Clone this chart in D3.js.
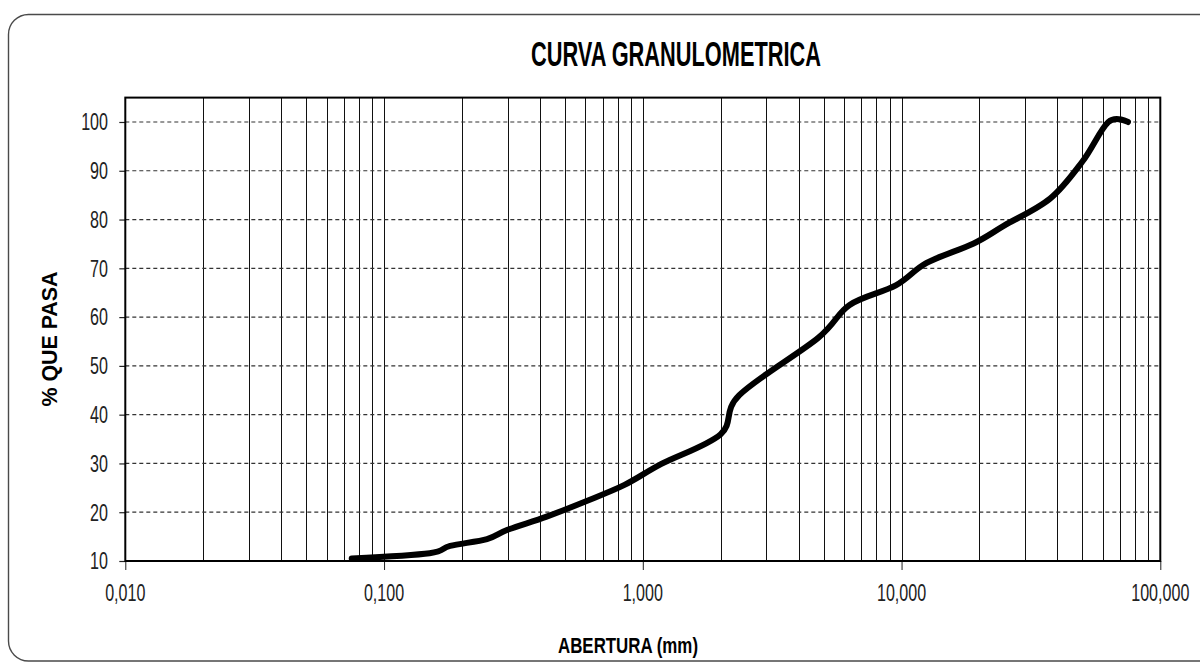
<!DOCTYPE html>
<html>
<head>
<meta charset="utf-8">
<script src="https://cdn.jsdelivr.net/npm/d3@7"></script>
<style>
  html, body { margin: 0; padding: 0; background: #fff; }
  svg { display: block; }
</style>
</head>
<body>
<svg id="chart" width="1200" height="662"></svg>
<script>
// Sieve openings (mm) and cumulative percent passing
const sieveSizes = [0.075, 0.15, 0.18, 0.25, 0.3, 0.425, 0.6, 0.85, 1.18, 2.0, 2.36, 4.75, 6.3, 9.5, 12.5, 19, 25, 37.5, 50, 63, 75];
const percentPassing = [10.5, 11.6, 13.1, 14.5, 16.4, 19.1, 22.2, 25.6, 29.9, 36.0, 44.0, 55.7, 62.5, 66.5, 71.1, 75.1, 78.8, 84.3, 91.9, 100, 100];

// Axis ticks
const xTickValues = [0.01, 0.1, 1, 10, 100];
const xTickLabels = ["0,010", "0,100", "1,000", "10,000", "100,000"];
const yTickValues = [10, 20, 30, 40, 50, 60, 70, 80, 90, 100];

const svg = d3.select("#chart");

const plotLeft = 125.3, plotRight = 1160.3, plotTop = 97.6, plotBottom = 561;

const x = d3.scaleLog().domain([0.01, 100]).range([plotLeft, plotRight]);
const y = d3.scaleLinear().domain([10, 105]).range([plotBottom, plotTop]);

// Outer rounded frame of the chart area
svg.append("rect")
  .attr("x", 8.5).attr("y", 14.5)
  .attr("width", 1210).attr("height", 646.5)
  .attr("rx", 20).attr("ry", 20)
  .attr("fill", "none")
  .attr("stroke", "#4a4a4a")
  .attr("stroke-width", 1.4);

// Vertical log grid: every 1..9 step of each decade
const gridX = [];
for (let e = -2; e < 2; e++) {
  for (let k = 1; k <= 9; k++) gridX.push(k * Math.pow(10, e));
}
svg.append("g").selectAll("line").data(gridX.filter(d => d > 0.01)).join("line")
  .attr("x1", d => Math.round(x(d)) + 0.5).attr("x2", d => Math.round(x(d)) + 0.5)
  .attr("y1", plotTop).attr("y2", plotBottom)
  .attr("stroke", "#111").attr("stroke-width", 1);

// Horizontal dashed grid
svg.append("g").selectAll("line").data(yTickValues.filter(d => d > 10)).join("line")
  .attr("x1", plotLeft).attr("x2", plotRight)
  .attr("y1", d => y(d)).attr("y2", d => y(d))
  .attr("stroke", "#333").attr("stroke-width", 1.2)
  .attr("stroke-dasharray", "4,3");

// Y axis (left) with outward ticks
const yAxis = svg.append("g")
  .attr("transform", `translate(${plotLeft},0)`)
  .call(d3.axisLeft(y).tickValues(yTickValues).tickSize(6).tickFormat(""));
yAxis.select(".domain").remove();
yAxis.selectAll(".tick line").attr("stroke", "#222").attr("stroke-width", 1.2);

// X axis (bottom) with decade ticks
const xAxis = svg.append("g")
  .attr("transform", `translate(0,${plotBottom})`)
  .call(d3.axisBottom(x).tickValues(xTickValues).tickSize(9).tickFormat(""));
xAxis.select(".domain").remove();
xAxis.selectAll(".tick line").attr("stroke", "#222").attr("stroke-width", 1);

// Plot frame
svg.append("rect")
  .attr("x", plotLeft).attr("y", plotTop)
  .attr("width", plotRight - plotLeft).attr("height", plotBottom - plotTop)
  .attr("fill", "none").attr("stroke", "#000").attr("stroke-width", 2);

// Tick labels (condensed)
const textFont = "'Liberation Sans', Arial, sans-serif";
const sx = 0.7;

svg.append("g").selectAll("g").data(yTickValues).join("g")
  .attr("transform", d => `translate(108,${y(d) + 8.3}) scale(${sx},1)`)
  .append("text")
  .attr("text-anchor", "end")
  .attr("font-family", textFont).attr("font-size", 23)
  .attr("fill", "#222")
  .text(d => d);

svg.append("g").selectAll("g").data(xTickValues).join("g")
  .attr("transform", d => `translate(${x(d)},601) scale(${sx},1)`)
  .append("text")
  .attr("text-anchor", "middle")
  .attr("font-family", textFont).attr("font-size", 23)
  .attr("fill", "#222")
  .text((d, i) => xTickLabels[i]);

// Granulometric curve
const points = sieveSizes.map((s, i) => [s, percentPassing[i]]);
const line = d3.line()
  .x(d => x(d[0]))
  .y(d => y(d[1]))
  .curve(d3.curveCardinal.tension(0));

svg.append("path")
  .attr("d", line(points))
  .attr("fill", "none")
  .attr("stroke", "#000")
  .attr("stroke-width", 6)
  .attr("stroke-linecap", "round")
  .attr("stroke-linejoin", "round");

// Titles
svg.append("text")
  .attr("x", 531).attr("y", 66)
  .attr("font-family", textFont).attr("font-weight", "bold")
  .attr("font-size", 35)
  .attr("textLength", 290).attr("lengthAdjust", "spacingAndGlyphs")
  .attr("fill", "#000")
  .text("CURVA GRANULOMETRICA");

svg.append("text")
  .attr("x", 558).attr("y", 653)
  .attr("font-family", textFont).attr("font-weight", "bold")
  .attr("font-size", 22)
  .attr("textLength", 140).attr("lengthAdjust", "spacingAndGlyphs")
  .attr("fill", "#000")
  .text("ABERTURA (mm)");

svg.append("text")
  .attr("transform", "translate(57,406.5) rotate(-90)")
  .attr("font-family", textFont).attr("font-weight", "bold")
  .attr("font-size", 22)
  .attr("textLength", 135).attr("lengthAdjust", "spacingAndGlyphs")
  .attr("fill", "#000")
  .text("% QUE PASA");
</script>
</body>
</html>
